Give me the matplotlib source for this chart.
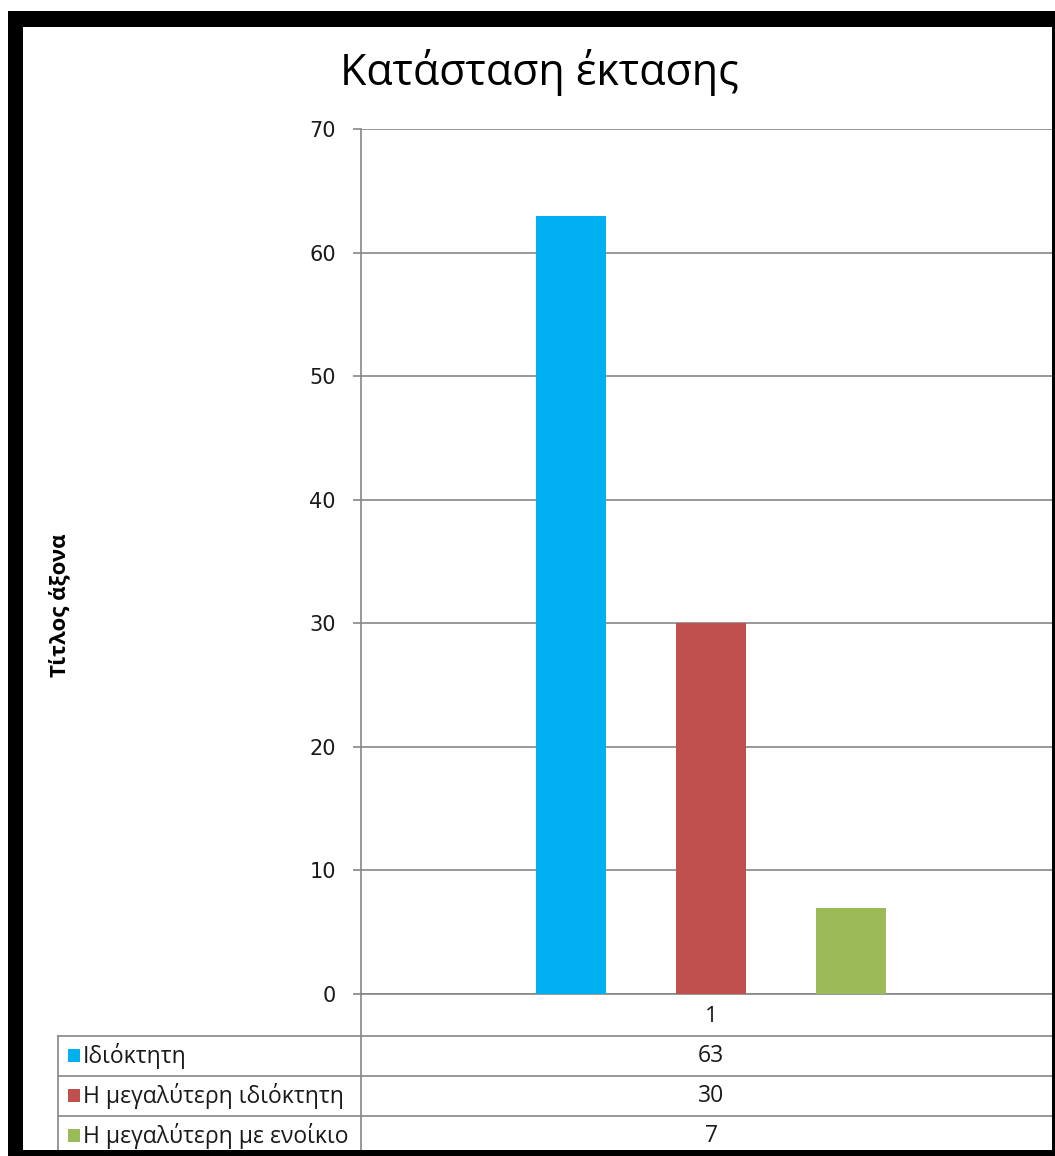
import matplotlib
matplotlib.use("Agg")
import matplotlib.pyplot as plt
from matplotlib.patches import Rectangle
from matplotlib.lines import Line2D

# ---- data ----
title = "Κατάσταση έκτασης"
axis_title = "Τίτλος άξονα"
categories = ["1"]
series_names = ["Ιδιόκτητη", "Η μεγαλύτερη ιδιόκτητη", "Η μεγαλύτερη με ενοίκιο"]
series_values = [63, 30, 7]
series_colors = ["#00B0F0", "#C0504D", "#9BBB59"]
y_ticks = [0, 10, 20, 30, 40, 50, 60, 70]

W, H = 1055, 1156
DPI = 100
GRID = "#868686"
NARROW = ["Liberation Sans Narrow", "Open Sans", "DejaVu Sans"]

fig = plt.figure(figsize=(W / DPI, H / DPI), dpi=DPI)
fig.patch.set_facecolor("white")


def fx(px):
    return px / W


def fy(py):
    return 1 - py / H


# plot area in pixel terms: left 361, top 129, bottom 994; one category 700 px wide
left, top, bottom, right = 361, 129, 994, 1061
ax = fig.add_axes([fx(left), fy(bottom), fx(right - left), (bottom - top) / H])
ax.set_facecolor("white")

bar_w = 0.1
spacing = 0.2
n = len(series_values)
for i, (name, val, col) in enumerate(zip(series_names, series_values, series_colors)):
    ax.bar(0 + (i - (n - 1) / 2) * spacing, val, width=bar_w, color=col, zorder=3)

ax.set_xlim(-0.5, 0.5)
ax.set_ylim(0, 70)
ax.set_yticks(y_ticks)
ax.set_yticklabels([str(t) for t in y_ticks], fontsize=15, family="DejaVu Sans",
                   color="#1a1a1a")
ax.yaxis.grid(True, color=GRID, linewidth=1.2, zorder=1)
ax.set_axisbelow(True)
ax.tick_params(axis="y", direction="out", length=6, width=1.2, color=GRID, pad=12)
ax.set_xticks([0])
ax.set_xticklabels(categories, fontsize=16, family=NARROW, color="#1a1a1a")
ax.tick_params(axis="x", length=0, pad=9)
for s in ("top", "right"):
    ax.spines[s].set_visible(False)
for s in ("left", "bottom"):
    ax.spines[s].set_color(GRID)
    ax.spines[s].set_linewidth(1.2)

# overlay for title, axis title, data table and frame
ov = fig.add_axes([0, 0, 1, 1], zorder=5)
ov.set_xlim(0, W)
ov.set_ylim(H, 0)
ov.axis("off")

ov.text(539, 72, title, fontsize=31, family=NARROW, fontweight="medium",
        ha="center", va="center", color="black")
ov.text(60, 605, axis_title, fontsize=16, family=NARROW, fontweight="bold",
        rotation=90, ha="center", va="center", color="black")

# data table
row_lines = [1036, 1076, 1116]
table_left = 58
for y in row_lines:
    ov.add_line(Line2D([table_left, W], [y, y], color=GRID, lw=1.2))
ov.add_line(Line2D([table_left, table_left], [row_lines[0], H], color=GRID, lw=1.2))
ov.add_line(Line2D([left, left], [bottom, H], color=GRID, lw=1.2))

row_h = 40
for i, (name, val, col) in enumerate(zip(series_names, series_values, series_colors)):
    yc = row_lines[0] + row_h * (i + 0.5)
    ov.add_patch(Rectangle((68, yc - 7), 12, 13, facecolor=col, edgecolor="none"))
    ov.text(83, yc, name, fontsize=16.5, family=NARROW, ha="left", va="center",
            color="#1a1a1a")
    ov.text((left + right) / 2, yc, str(val), fontsize=16.5, family=NARROW,
            ha="center", va="center", color="#1a1a1a")

# black frame
for (x0, y0, w, h) in [(8, 11, W - 8, 16), (8, 11, 15, H - 11),
                       (8, 1150, W - 8, 6), (1052, 11, 3, H - 11)]:
    ov.add_patch(Rectangle((x0, y0), w, h, facecolor="black", edgecolor="none",
                           zorder=10))

fig.savefig("out.png", dpi=DPI)
